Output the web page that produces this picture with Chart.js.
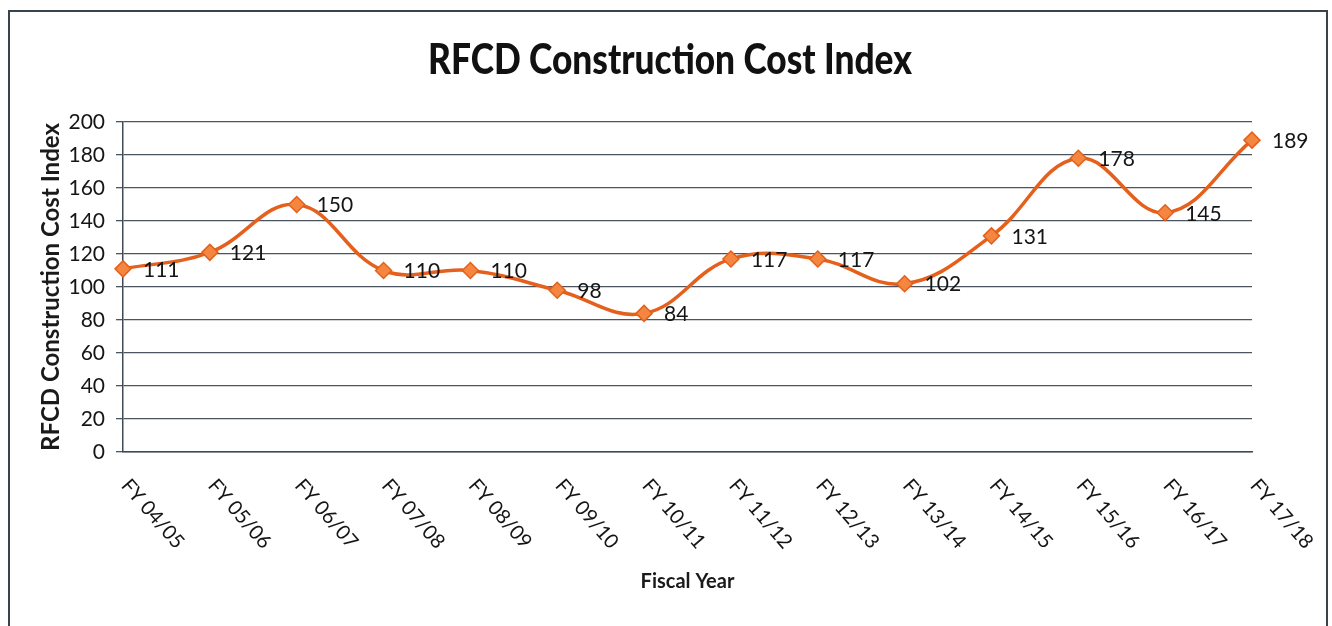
<!DOCTYPE html>
<html>
<head>
<meta charset="utf-8">
<script src="https://cdn.jsdelivr.net/npm/chart.js@4.4.0/dist/chart.umd.min.js"></script>
<style>
  body { margin: 0; background: #fff; }
  #wrap { position: relative; width: 1332px; height: 626px; overflow: hidden; }
  #frame { position: absolute; left: 8px; top: 10px; width: 1316px; height: 700px;
           border: 2px solid #38434c; pointer-events: none; }
</style>
</head>
<body>
<div id="wrap">
  <canvas id="myChart"></canvas>
  <div id="frame"></div>
</div>
<script>
// data dari gambar
const years = ["FY 04/05", "FY 05/06", "FY 06/07", "FY 07/08", "FY 08/09", "FY 09/10", "FY 10/11",
  "FY 11/12", "FY 12/13", "FY 13/14", "FY 14/15", "FY 15/16", "FY 16/17", "FY 17/18"];
const costIndex = [111, 121, 150, 110, 110, 98, 84, 117, 117, 102, 131, 178, 145, 189];
const yTicks = [0, 20, 40, 60, 80, 100, 120, 140, 160, 180, 200];
const chartTitle = "RFCD Construction Cost Index";

const fontName = "Lato";

// judul digambar sendiri supaya posisinya pas
const bigTitle = {
  id: "bigTitle",
  afterDraw(chart) {
    const ctx = chart.ctx;
    ctx.save();
    ctx.translate(670, 61);
    ctx.scale(0.98, 1.16);
    ctx.font = "900 36px " + fontName;
    ctx.fillStyle = "#111";
    ctx.textAlign = "center";
    ctx.textBaseline = "middle";
    ctx.fillText(chartTitle, 0, 0);
    ctx.restore();
  }
};

// label nilai di kanan titik
const valueLabels = {
  id: "valueLabels",
  afterDatasetsDraw(chart) {
    const ctx = chart.ctx;
    const meta = chart.getDatasetMeta(0);
    ctx.save();
    ctx.font = "21px " + fontName;
    ctx.fillStyle = "#151515";
    ctx.textAlign = "left";
    ctx.textBaseline = "middle";
    meta.data.forEach((pt, i) => {
      ctx.fillText(costIndex[i], pt.x + 20, pt.y + 1);
    });
    ctx.restore();
  }
};

// label sumbu x miring ke bawah kanan
const slantLabels = {
  id: "slantLabels",
  afterDraw(chart) {
    const ctx = chart.ctx;
    const xs = chart.scales.x;
    ctx.save();
    ctx.font = "20px " + fontName;
    ctx.fillStyle = "#151515";
    ctx.textAlign = "left";
    ctx.textBaseline = "middle";
    years.forEach((lbl, i) => {
      ctx.save();
      ctx.translate(xs.getPixelForValue(i) + 2, xs.top + 30);
      ctx.rotate(49 * Math.PI / 180);
      ctx.fillText(lbl, 0, 0);
      ctx.restore();
    });
    ctx.restore();
  }
};

const data = {
  labels: years,
  datasets: [{
    data: costIndex,
    borderColor: "#e4601c",
    borderWidth: 3.5,
    backgroundColor: "#f5863f",
    pointStyle: "rectRot",
    pointRadius: 8,
    pointBorderColor: "#e4601c",
    pointBorderWidth: 1.5,
    tension: 0.4,
    fill: false
  }]
};

const config = {
  type: "line",
  data: data,
  options: {
    responsive: true,
    maintainAspectRatio: false,
    animation: false,
    layout: { padding: { left: 0, right: 80, top: 122, bottom: 0 } },
    plugins: {
      legend: { display: false },
      tooltip: { enabled: false },
      title: { display: false }
    },
    scales: {
      x: {
        offset: false,
        grid: { display: false },
        border: { display: true, color: "#3f4a54", width: 1.5 },
        ticks: { display: false },
        title: {
          display: true,
          text: "Fiscal Year",
          color: "#1a1a1a",
          font: { family: fontName, size: 20, weight: "bold" },
          padding: { top: 0, bottom: 32 }
        },
        afterFit: (s) => { s.height = 174; }
      },
      y: {
        min: 0,
        max: 200,
        afterBuildTicks: (s) => { s.ticks = yTicks.map(v => ({ value: v })); },
        ticks: {
          color: "#151515",
          padding: 11,
          font: { family: fontName, size: 21 }
        },
        grid: { color: "#4a5560", lineWidth: 1.3, tickLength: 7 },
        border: { display: true, color: "#3f4a54", width: 1.5 },
        title: {
          display: true,
          text: chartTitle,
          color: "#1a1a1a",
          font: { family: fontName, size: 24, weight: "bold" },
          padding: { top: 37, bottom: 0 }
        },
        afterFit: (s) => { s.width = 123; }
      }
    }
  },
  plugins: [valueLabels, slantLabels, bigTitle]
};

new Chart(document.getElementById("myChart"), config);
</script>
</body>
</html>
